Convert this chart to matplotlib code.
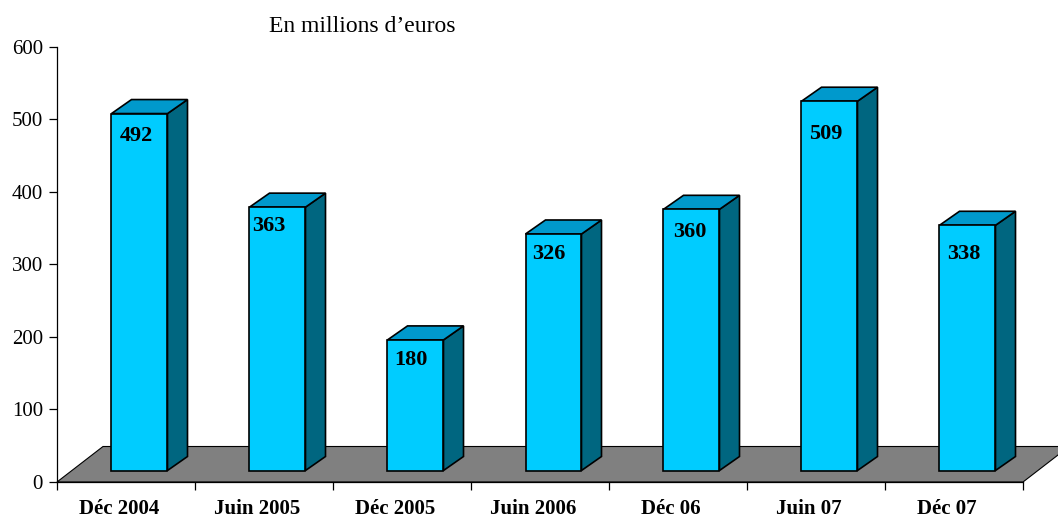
import matplotlib
matplotlib.use("Agg")
import matplotlib.pyplot as plt
from matplotlib.patches import Polygon

categories = ["Déc 2004", "Juin 2005", "Déc 2005", "Juin 2006", "Déc 06", "Juin 07", "Déc 07"]
values = [492, 363, 180, 326, 360, 509, 338]
yticks = [0, 100, 200, 300, 400, 500, 600]

# label placement offsets inside each bar front face (pixels: right of left edge, below top edge to digit top)
label_dx_px = [8, 3, 7, 7, 10, 8, 8]
label_dy_px = [12, 9, 10, 10, 13, 23, 19]

W, H = 1058, 518
fig = plt.figure(figsize=(W / 100, H / 100), dpi=100)
ax_l, ax_r, ax_b, ax_t = 57, 1023, 482, 46.7
ax = fig.add_axes([ax_l / W, (H - ax_b) / H, (ax_r - ax_l) / W, (ax_b - ax_t) / H])
n = len(categories)
ax.set_xlim(0, n)
ax.set_ylim(0, 600)

pxx = (ax_r - ax_l) / n          # px per x unit
pxy = (ax_b - ax_t) / 600.0      # px per y unit

def ux(px):
    return px / pxx

def uy(px):
    return px / pxy

FRONT = "#00CCFF"
TOP = "#0099CC"
SIDE = "#006680"
FLOOR = "#808080"

# floor
fdx, fdy = ux(46), uy(35.5)
floor = Polygon([(0, 0), (n, 0), (n + fdx, fdy), (fdx, fdy)], closed=True,
                facecolor=FLOOR, edgecolor="black", lw=0.8, clip_on=False, zorder=1)
ax.add_patch(floor)

# bars
y0 = uy(11.5)
off = ux(13.5)
bw = ux(56)
bdx, bdy = ux(20), uy(14)
for i, v in enumerate(values):
    cx = i + 0.5 + off
    xl, xr = cx - bw / 2, cx + bw / 2
    yt = v + y0
    front = Polygon([(xl, y0), (xr, y0), (xr, yt), (xl, yt)], closed=True,
                    facecolor=FRONT, edgecolor="black", lw=1.2, zorder=3, clip_on=False)
    side = Polygon([(xr, y0), (xr + bdx, y0 + bdy), (xr + bdx, yt + bdy), (xr, yt)], closed=True,
                   facecolor=SIDE, edgecolor="black", lw=1.2, zorder=3, clip_on=False)
    top = Polygon([(xl, yt), (xr, yt), (xr + bdx, yt + bdy), (xl + bdx, yt + bdy)], closed=True,
                  facecolor=TOP, edgecolor="black", lw=1.2, zorder=3, clip_on=False)
    for p in (side, top, front):
        ax.add_patch(p)
    ax.text(xl + ux(label_dx_px[i]), yt - uy(label_dy_px[i] + 15), str(v), ha="left", va="baseline",
            fontsize=16, fontweight="bold", family="Liberation Serif", zorder=4)

# axes styling
for s in ("top", "right"):
    ax.spines[s].set_visible(False)
for s in ("left", "bottom"):
    ax.spines[s].set_linewidth(0.9)
    ax.spines[s].set_zorder(2)
ax.set_yticks(yticks)
ax.set_yticklabels([str(t) for t in yticks], family="Liberation Serif", fontsize=15)
ax.tick_params(axis="y", direction="out", length=6, width=0.9, pad=4)
ax.set_xticks(range(n + 1))
ax.set_xticklabels([""] * (n + 1))
ax.tick_params(axis="x", which="major", direction="out", length=6, width=0.9)
ax.set_xticks([i + 0.5 - ux(7) for i in range(n)], minor=True)
ax.set_xticklabels(categories, minor=True, family="Liberation Serif", fontsize=15, fontweight="bold")
ax.tick_params(axis="x", which="minor", length=0, pad=12)

fig.text(269 / W, 1 - 27 / H, "En millions d\u2019euros", ha="left", va="center",
         family="Liberation Serif", fontsize=17)

fig.savefig("out.png", dpi=100)
